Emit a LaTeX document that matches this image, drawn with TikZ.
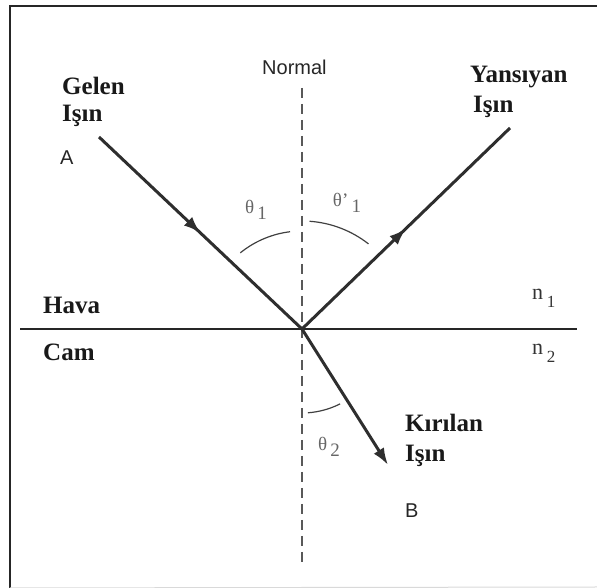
\documentclass[tikz,border=0pt]{standalone}
\usepackage{fontspec}
\setmainfont{Liberation Serif}
\newfontfamily\arialf{Liberation Sans}
\usetikzlibrary{arrows.meta,decorations.markings}
\newcommand{\lowsub}[2]{#1\,\raisebox{-0.32em}{#2}}
\begin{document}
\begin{tikzpicture}[x=1pt,y=1pt,
  bigtxt/.style={font=\fontsize{25}{26}\selectfont\bfseries, text=black!90, inner sep=0pt, anchor=base west},
  sanstxt/.style={font=\arialf\fontsize{20}{22}\selectfont, text=black!85, inner sep=0pt, anchor=base west},
  angtxt/.style={font=\fontsize{19}{20}\selectfont, text=black!60, inner sep=0pt},
  ntxt/.style={font=\fontsize{22}{23}\selectfont, text=black!80, inner sep=0pt, anchor=base west},
  ray/.style={line width=3pt, draw=black!82},
  midarrow/.style={postaction={decorate}, decoration={markings,
     mark=at position 0.5 with {\arrow{Latex[length=17pt,width=12pt]}}}},
  anglearc/.style={line width=1.2pt, draw=black!75},
  normalline/.style={line width=1.3pt, draw=black!65, dash pattern=on 10pt off 6pt},
  frameline/.style={line width=2pt, draw=black!85}
]
\useasboundingbox (0,0) rectangle (597,588);
% frame
\coordinate (fbl) at (10,0);
\coordinate (ftl) at (10,582);
\coordinate (ftr) at (597,582);
\coordinate (fbr) at (597,1);
\draw[frameline] (fbl) -- (ftl) -- (ftr);
\draw[line width=1pt, draw=black!15] (fbl) -- (fbr);
% key points
\coordinate (O) at (302,259);
\coordinate (Astart) at (99,451);
\coordinate (Rend) at (510,460);
\coordinate (Tend) at (388,123);
\coordinate (Ntop) at (302,500);
\coordinate (Nbot) at (302,25);
\coordinate (Ileft) at (20,259);
\coordinate (Iright) at (577,259);
% interface and normal
\draw[line width=2pt, draw=black!85] (Ileft) -- (Iright);
\draw[normalline] (Ntop) -- (Nbot);
% rays
\draw[ray, midarrow] (Astart) -- (O);
\draw[ray, midarrow] (O) -- (Rend);
\draw[ray, -{Latex[length=17pt,width=12pt]}] (O) -- (Tend);
% angle arcs
\draw[anglearc] ([shift={(97:98)}]O) arc[start angle=97, end angle=129, radius=98];
\draw[anglearc] ([shift={(86:108)}]O) arc[start angle=86, end angle=52, radius=108];
\draw[anglearc] ([shift={(-86:84)}]O) arc[start angle=-86, end angle=-63, radius=84];
% labels
\node[bigtxt] (gelen) at (62,493) {Gelen};
\node[bigtxt] (isin1) at (62,466) {Işın};
\node[sanstxt] (lA) at (60,423) {A};
\node[sanstxt] (normal) at (262,513) {Normal};
\node[bigtxt] (yans) at (470,505) {Yansıyan};
\node[bigtxt] (isin2) at (473,475) {Işın};
\node[angtxt] (th1) at (256,378) {\lowsub{θ}{1}};
\node[angtxt] (th1p) at (347,385) {\lowsub{θ'}{1}};
\node[bigtxt] (hava) at (43,274) {Hava};
\node[bigtxt] (cam) at (43,227) {Cam};
\node[ntxt] (n1) at (532,288) {\lowsub{n}{\fontsize{17}{17}\selectfont 1}};
\node[ntxt] (n2) at (532,233) {\lowsub{n}{\fontsize{17}{17}\selectfont 2}};
\node[bigtxt] (kir) at (405,156) {Kırılan};
\node[bigtxt] (isin3) at (405,126) {Işın};
\node[sanstxt] (lB) at (405,70) {B};
\node[angtxt] (th2) at (329,141) {\lowsub{θ}{2}};
\end{tikzpicture}
\end{document}
